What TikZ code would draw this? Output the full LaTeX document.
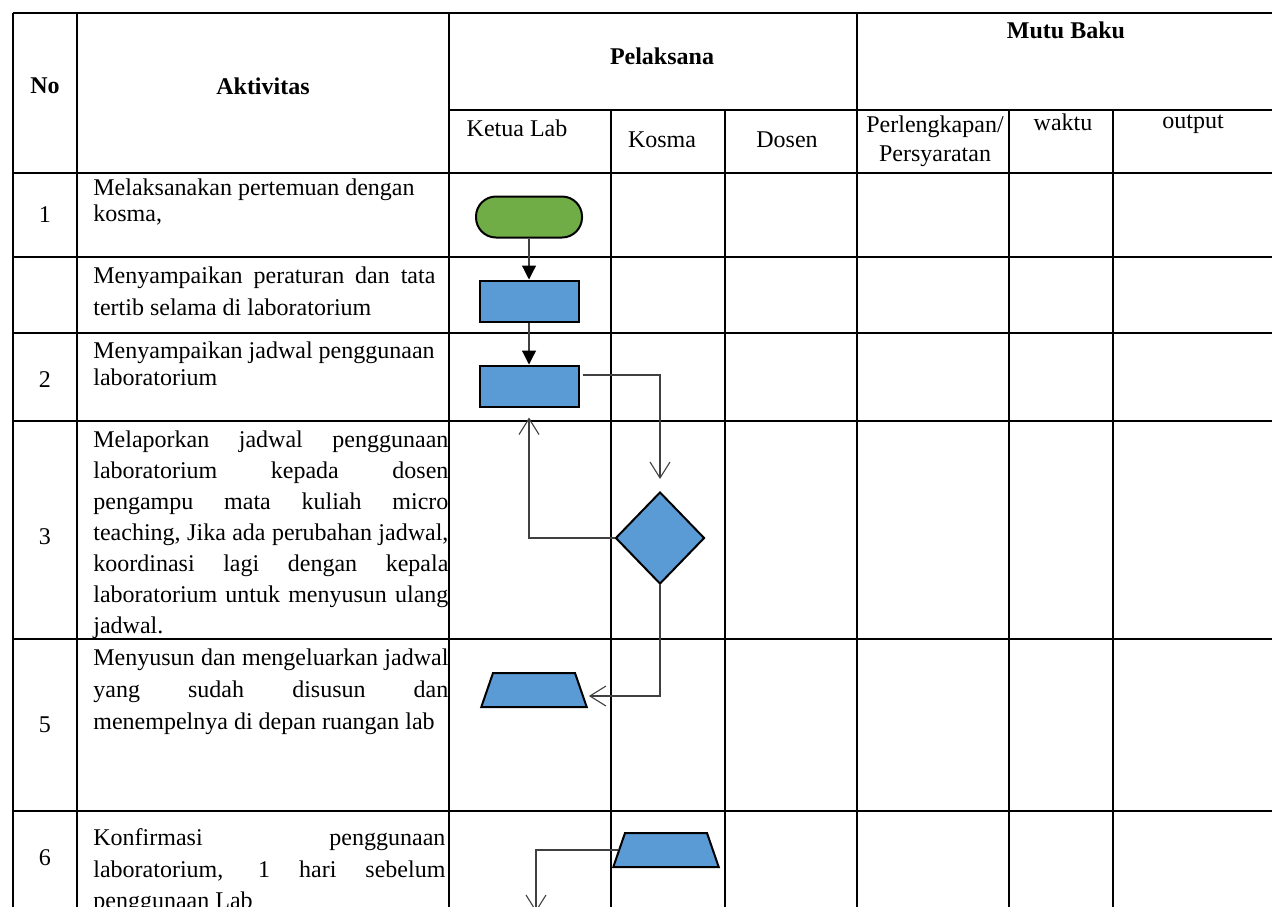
\documentclass[tikz,border=0pt]{standalone}
\usepackage{fontspec}
\setmainfont{Liberation Serif}
\usetikzlibrary{positioning, arrows.meta, shapes.geometric}
\definecolor{startgreen}{HTML}{70AD47}
\definecolor{stepblue}{HTML}{5B9BD5}
\definecolor{linkgray}{HTML}{404040}
\newcommand{\jline}[2][177.5pt]{\makebox[#1][s]{#2}} % one justified line
\tikzset{
x=0.5pt, y=-0.5pt, % one unit is one pixel, y runs down the page
grid/.style={line width=1.1pt, black}, % rules of the table
cell/.style={inner sep=0pt, font=\fontsize{12}{14}\selectfont}, % plain table text
head/.style={inner sep=0pt, font=\fontsize{12}{14}\selectfont\bfseries}, % bold headings
activity/.style={inner sep=0pt, anchor=north west, align=left}, % text of the Aktivitas column
terminal/.style={draw, line width=1pt, fill=startgreen, rounded corners=10pt, minimum width=53pt, minimum height=20.5pt},
process/.style={draw, line width=1pt, fill=stepblue, minimum width=49.5pt, minimum height=20.5pt, inner sep=0pt},
decision/.style={diamond, draw, line width=1pt, fill=stepblue, minimum width=44.5pt, minimum height=46pt, inner sep=1pt},
io/.style={trapezium, trapezium left angle=71, trapezium right angle=71, draw, line width=1pt, fill=stepblue, inner xsep=20.5pt, inner ysep=8.5pt},
flow/.style={draw=linkgray, line width=0.6pt, -{Triangle[length=7pt, width=7pt, color=black]}}, % solid heads
link/.style={draw=linkgray, line width=0.55pt, -{Straight Barb[length=8pt, width=10pt]}}, % open heads
}

\begin{document}
\begin{tikzpicture}
\useasboundingbox (0,0) rectangle (1272,906);

% table rules
\draw[grid] (13,13) -- (1290,13);
\draw[grid] (449,110) -- (1290,110);
\foreach \y in {173,257,333,421,639,811}
  \draw[grid] (13,\y) -- (1290,\y);
\foreach \x in {13,77,449,857}
  \draw[grid] (\x,13) -- (\x,920);
\foreach \x in {611,725,1009,1113}
  \draw[grid] (\x,110) -- (\x,920);

% headings
\node[head] (no) at (45,86) {No};
\node[head] (aktivitas) at (263,86) {Aktivitas};
\node[head] (pelaksana) at (662,56) {Pelaksana};
\node[head] (mutu) at (1066,30) {Mutu Baku};
\node[cell] (ketua) at (517,128) {Ketua Lab};
\node[cell] (kosma) at (662,140) {Kosma};
\node[cell] (dosen) at (787,140) {Dosen};
\node[cell, align=center, anchor=north, font=\fontsize{12}{14.5}\selectfont] (perlengkapan) at (935,115) {Perlengkapan/\\Persyaratan};
\node[cell] (waktu) at (1063,122) {waktu};
\node[cell] (output) at (1193,124) {output};

% numbers
\node[cell] (n1) at (45,215) {1};
\node[cell] (n2) at (45,380) {2};
\node[cell] (n3) at (45,537) {3};
\node[cell] (n5) at (45,725) {5};
\node[cell] (n6) at (45,858) {6};

% activities
\node[activity, font=\fontsize{12}{13}\selectfont] (act1) at (93,178.5) {Melaksanakan pertemuan dengan\\kosma,};
\node[activity, font=\fontsize{12}{16}\selectfont] (actp) at (93,266.5) {\jline[171pt]{Menyampaikan peraturan dan tata}\\tertib selama di laboratorium};
\node[activity, font=\fontsize{12}{13.5}\selectfont] (act2) at (93,341.5) {Menyampaikan jadwal penggunaan\\laboratorium};
\node[activity, font=\fontsize{12}{15.5}\selectfont] (act3) at (93,430.5) {\jline{Melaporkan jadwal penggunaan}\\\jline{laboratorium kepada dosen}\\\jline{pengampu mata kuliah micro}\\\jline{teaching, Jika ada perubahan jadwal,}\\\jline{koordinasi lagi dengan kepala}\\\jline{laboratorium untuk menyusun ulang}\\jadwal.};
\node[activity, font=\fontsize{12}{16}\selectfont] (act5) at (93,648.5) {\jline{Menyusun dan mengeluarkan jadwal}\\\jline{yang sudah disusun dan}\\menempelnya di depan ruangan lab};
\node[activity, font=\fontsize{12}{15.75}\selectfont] (act6) at (93,828.5) {\jline[176pt]{Konfirmasi penggunaan}\\\jline[176pt]{laboratorium, 1 hari sebelum}\\penggunaan Lab};

% flow
\node[terminal] (start) at (529,217) {};
\node[process, below=20.5pt of start] (aturan) {};
\node[process, below=21pt of aturan] (jadwal) {};
\node[decision] (cek) at (660,538) {};
\node[io] (susun) at (534,690) {};
\node[io] (konfirmasi) at (666,850) {};
\coordinate (lanjut) at (536,912);

\draw[flow] (start) -- (aturan);
\draw[flow] (aturan) -- (jadwal);
\draw[link, shorten >=6pt] ([xshift=1.5pt, yshift=5.5pt]jadwal.east) -| (cek.north);
\draw[link, shorten >=5pt] (cek.west) -| (jadwal.south);
\draw[link, shorten >=3.5pt] (cek.south) |- ([yshift=-3pt]susun.east);
\draw[link] (konfirmasi.west) -| (lanjut);
\end{tikzpicture}
\end{document}
